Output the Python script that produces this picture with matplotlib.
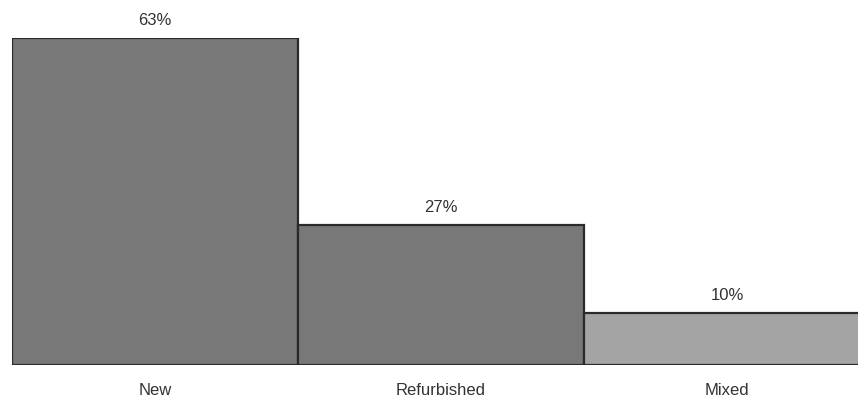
import matplotlib.pyplot as plt

plt.rcParams['font.family'] = ['Liberation Sans', 'DejaVu Sans']

# --- chart data ---
categories = ['New', 'Refurbished', 'Mixed']
shares = [63, 27, 10]
fills = ['#787878', '#787878', '#a4a4a4']

fig = plt.figure(figsize=(8.58, 4.0), dpi=100)
ax = fig.add_axes([12 / 858, 35 / 400, 846 / 858, 327 / 400])

x = range(len(categories))
ax.bar(x, shares, width=1.0, color=fills, edgecolor='#2a2a2a', linewidth=1.6)

for xi, v in zip(x, shares):
    ax.annotate(f'{v}%', (xi, v), xytext=(0, 7), textcoords='offset points',
                ha='center', va='bottom', fontsize=12, color='#333333')

ax.set_xlim(-0.5, 2.458)
ax.set_ylim(0, 63)
ax.set_xticks(list(x))
ax.set_xticklabels(categories, fontsize=12, color='#333333')
ax.tick_params(axis='x', length=0, pad=13)
ax.set_yticks([])
for s in ax.spines.values():
    s.set_visible(False)

fig.savefig('out.png', dpi=100, facecolor='white')
